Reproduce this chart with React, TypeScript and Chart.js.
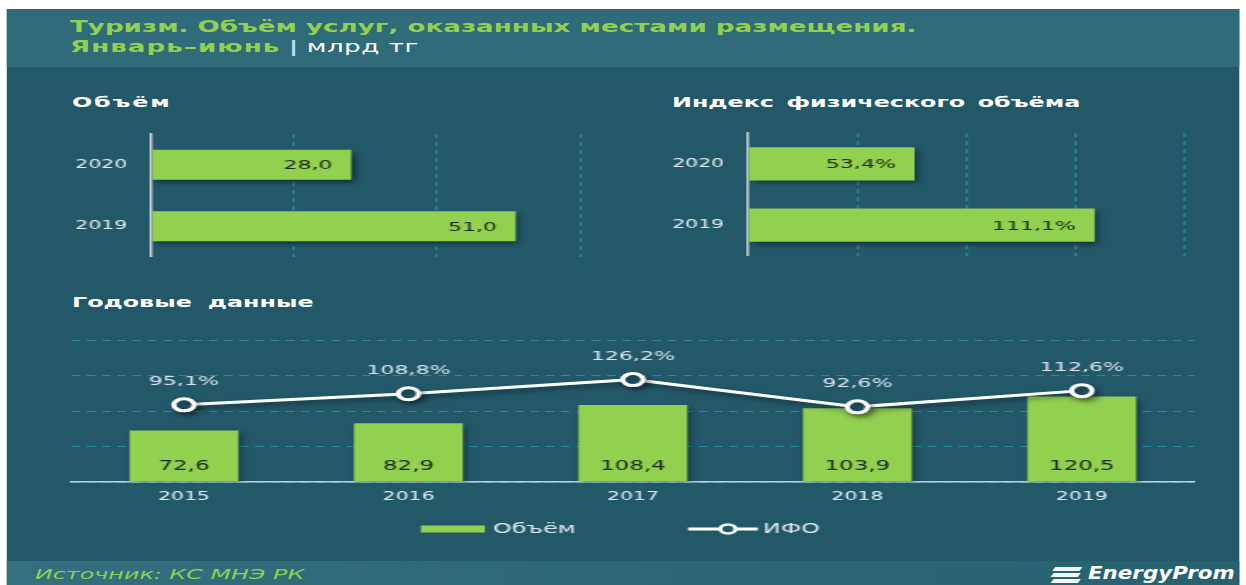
import React, { useEffect, useRef } from 'react';
import { Chart, registerables } from 'chart.js';

Chart.register(...registerables);

// ---------- data ----------
const halfYearCategories = ['2020', '2019'];
const halfYearVolume = [28.0, 51.0];
const halfYearIndex = [53.4, 111.1];

const years = ['2015', '2016', '2017', '2018', '2019'];
const annualVolume = [72.6, 82.9, 108.4, 103.9, 120.5];
const annualIfo = [95.1, 108.8, 126.2, 92.6, 112.6];

const seriesNames = ['Объём', 'ИФО'];

// ---------- style ----------
const K = 1.7; // the infographic is drawn horizontally stretched
const FONT = '"DejaVu Sans", Verdana, sans-serif';
const GREEN = '#92d050';
const BG = '#235869';
const HEADER = '#306b7a';
const GRID = '#2b88a6';
const AXIS = '#c9cfd2';
const TICK = '#e6ecef';

Chart.defaults.font.family = FONT;

const fmt = (v: number, suffix: string) => v.toFixed(1).replace('.', ',') + suffix;

const labelsPlugin = {
  id: 'shadowAndLabels',
  beforeDatasetsDraw(chart: any) {
    const ctx = chart.ctx;
    ctx.save();
    ctx.shadowColor = 'rgba(0,0,0,0.45)';
    ctx.shadowBlur = 5;
    ctx.shadowOffsetX = 2;
    ctx.shadowOffsetY = 3;
  },
  afterDatasetsDraw(chart: any) {
    const ctx = chart.ctx;
    ctx.restore();
    ctx.save();
    chart.data.datasets.forEach((ds: any, di: number) => {
      const meta = chart.getDatasetMeta(di);
      meta.data.forEach((el: any, i: number) => {
        const v = ds.data[i] as number;
        const txt = fmt(v, ds.suffix || '');
        ctx.textBaseline = 'middle';
        if (ds.labelMode === 'hbar') {
          ctx.font = `13px ${FONT}`;
          ctx.fillStyle = '#1c2614';
          ctx.textAlign = 'right';
          ctx.fillText(txt, el.x - 11, el.y + 1);
        } else if (ds.labelMode === 'vbar') {
          ctx.font = `13.5px ${FONT}`;
          ctx.fillStyle = '#1c2614';
          ctx.textAlign = 'center';
          ctx.fillText(txt, el.x, el.base - 15);
        } else if (ds.labelMode === 'point') {
          ctx.font = `13px ${FONT}`;
          ctx.fillStyle = '#dbe6ea';
          ctx.textAlign = 'center';
          ctx.fillText(txt, el.x, el.y - 23);
        }
      });
    });
    ctx.restore();
  },
};

const legendPlugin = {
  id: 'customLegend',
  afterDraw(chart: any) {
    const ctx = chart.ctx;
    const { left, right, bottom } = chart.chartArea;
    const cx = (left + right) / 2;
    const y = bottom + 47;
    ctx.save();
    ctx.font = `14px ${FONT}`;
    ctx.textBaseline = 'middle';
    ctx.textAlign = 'left';
    // bar item
    const x1 = cx - 124.7;
    ctx.fillStyle = GREEN;
    ctx.fillRect(x1, y - 3.5, 37.6, 7);
    ctx.fillStyle = '#dfe8ec';
    ctx.fillText(chart.data.datasets[1].label, x1 + 37.6 + 4.7, y);
    // line item
    const x2 = cx + 32.4;
    ctx.strokeStyle = '#ffffff';
    ctx.lineWidth = 3;
    ctx.beginPath();
    ctx.moveTo(x2, y);
    ctx.lineTo(x2 + 41, y);
    ctx.stroke();
    ctx.beginPath();
    ctx.arc(x2 + 23.5, y, 4.5, 0, Math.PI * 2);
    ctx.fillStyle = BG;
    ctx.fill();
    ctx.lineWidth = 2.5;
    ctx.stroke();
    ctx.fillStyle = '#dfe8ec';
    ctx.fillText(chart.data.datasets[0].label, x2 + 41 + 3, y);
    ctx.restore();
  },
};

function hbarConfig(values: number[], max: number, step: number, suffix: string, barPct: number, axisWidth: number): any {
  return {
    type: 'bar',
    data: {
      labels: halfYearCategories,
      datasets: [
        {
          data: values,
          backgroundColor: GREEN,
          borderWidth: 0,
          barPercentage: barPct,
          categoryPercentage: 1,
          labelMode: 'hbar',
          suffix,
        },
      ],
    },
    options: {
      indexAxis: 'y',
      responsive: true,
      maintainAspectRatio: false,
      animation: false,
      layout: { padding: { left: 0, right: 6, top: 14, bottom: 9 } },
      plugins: { legend: { display: false }, tooltip: { enabled: false } },
      scales: {
        x: {
          min: 0,
          max,
          ticks: { display: false, stepSize: step },
          grid: { color: GRID, lineWidth: 1.3, drawTicks: false },
          border: { display: false, dash: [4, 4] },
        },
        y: {
          ticks: { color: TICK, font: { size: 12, family: FONT }, padding: 14 },
          grid: { display: false, drawTicks: false },
          border: { display: true, color: AXIS, width: 1.5 },
          afterFit: (s: any) => {
            s.width = axisWidth;
          },
        },
      },
    },
    plugins: [labelsPlugin],
  };
}

function annualConfig(): any {
  return {
    type: 'bar',
    data: {
      labels: years,
      datasets: [
        {
          type: 'line',
          label: seriesNames[1],
          data: annualIfo,
          yAxisID: 'y1',
          borderColor: '#ffffff',
          borderWidth: 3,
          pointRadius: 6,
          pointBorderWidth: 3,
          pointBackgroundColor: BG,
          pointBorderColor: '#ffffff',
          tension: 0,
          order: 0,
          labelMode: 'point',
          suffix: '%',
        },
        {
          type: 'bar',
          label: seriesNames[0],
          data: annualVolume,
          yAxisID: 'y',
          backgroundColor: GREEN,
          borderWidth: 0,
          barPercentage: 0.485,
          categoryPercentage: 1,
          order: 1,
          labelMode: 'vbar',
          suffix: '',
        },
      ],
    },
    options: {
      responsive: true,
      maintainAspectRatio: false,
      animation: false,
      layout: { padding: { left: 22.2, right: 17.6, top: 20, bottom: 38 } },
      plugins: { legend: { display: false }, tooltip: { enabled: false } },
      scales: {
        x: {
          ticks: { color: TICK, font: { size: 12, family: FONT }, padding: 8 },
          grid: { display: false, drawTicks: false },
          border: { display: true, color: AXIS, width: 1.5 },
          afterFit: (s: any) => {
            s.height = 30;
          },
        },
        y: {
          min: 0,
          max: 200,
          ticks: { display: false, stepSize: 50 },
          grid: { color: GRID, lineWidth: 1, drawTicks: false },
          border: { display: false, dash: [5, 4] },
          afterFit: (s: any) => {
            s.width = 0;
          },
        },
        y1: { min: 0, max: 175, display: false },
      },
    },
    plugins: [labelsPlugin, legendPlugin],
  };
}

function ChartBox({ make, box }: { make: () => any; box: React.CSSProperties }) {
  const ref = useRef<HTMLCanvasElement>(null);
  useEffect(() => {
    const chart = new Chart(ref.current as HTMLCanvasElement, make());
    return () => chart.destroy();
  }, []);
  return (
    <div style={{ position: 'absolute', ...box }}>
      <canvas ref={ref} />
    </div>
  );
}

const abs = (s: React.CSSProperties): React.CSSProperties => ({ position: 'absolute', ...s });

export default function App() {
  const panelLeft = 6 / K;
  const panelWidth = (1240 - 6) / K;
  const sectionTitle: React.CSSProperties = {
    fontSize: 14,
    lineHeight: '17px',
    fontWeight: 'bold',
    color: '#ffffff',
    whiteSpace: 'nowrap',
  };
  return (
    <div
      style={{
        position: 'absolute',
        left: 0,
        top: 0,
        width: 1246 / K,
        height: 585,
        transform: `scaleX(${K})`,
        transformOrigin: '0 0',
        background: '#ffffff',
        overflow: 'hidden',
        fontFamily: FONT,
      }}
    >
      <div style={abs({ left: panelLeft, top: 9, width: panelWidth, height: 576, background: BG })} />
      <div style={abs({ left: panelLeft, top: 9, width: panelWidth, height: 58, background: HEADER })} />
      <div
        style={abs({
          left: panelLeft,
          top: 561,
          width: panelWidth,
          height: 24,
          background: 'linear-gradient(90deg, #34707f 0%, #2d6777 50%, #28616f 100%)',
        })}
      />

      <div style={abs({ left: 70 / K, top: 18, fontSize: 15.4, lineHeight: '18px', fontWeight: 'bold', color: GREEN, whiteSpace: 'nowrap' })}>
        Туризм. Объём услуг, оказанных местами размещения.
      </div>
      <div style={abs({ left: 70 / K, top: 38, fontSize: 15.4, lineHeight: '18px', color: GREEN, whiteSpace: 'nowrap' })}>
        <span style={{ fontWeight: 'bold', letterSpacing: 0.6 }}>Январь–июнь</span>{' '}
        <span style={{ color: '#bfe0ec', fontWeight: 'bold' }}>|</span>{' '}
        <span style={{ color: '#ffffff', letterSpacing: 0.3 }}>млрд тг</span>
      </div>

      <div style={abs({ left: 72 / K, top: 94, ...sectionTitle, letterSpacing: 1.1 })}>Объём</div>
      <div style={abs({ left: 672 / K, top: 93.5, ...sectionTitle, wordSpacing: 2.5 })}>Индекс физического объёма</div>
      <div style={abs({ left: 72 / K, top: 294, ...sectionTitle, wordSpacing: 4.5 })}>Годовые данные</div>

      <ChartBox
        make={() => hbarConfig(halfYearVolume, 60, 20, '', 0.49, 151 / K - 20)}
        box={{ left: 20, top: 113, width: 580 / K - 20 + 6, height: 165 }}
      />
      <ChartBox
        make={() => hbarConfig(halfYearIndex, 140, 35, '%', 0.54, 748 / K - 375)}
        box={{ left: 375, top: 112, width: 1185 / K - 375 + 6, height: 165 }}
      />
      <ChartBox make={annualConfig} box={{ left: 20, top: 320, width: 700, height: 230 }} />

      <div style={abs({ left: 35 / K, top: 566, fontSize: 14, lineHeight: '17px', fontStyle: 'italic', color: '#8fd04f', whiteSpace: 'nowrap' })}>
        Источник: КС МНЭ РК
      </div>
      {[0, 6, 12].map((dy, i) => (
        <div
          key={i}
          style={abs({
            left: 1052 / K + (2 - i) * 0.6,
            top: 567 + dy,
            width: 16,
            height: 3.5,
            background: '#ffffff',
            transform: 'skewX(-25deg)',
            opacity: 0.95,
          })}
        />
      ))}
      <div
        style={abs({
          left: 1088 / K,
          top: 563,
          fontSize: 17,
          lineHeight: '20px',
          fontStyle: 'italic',
          fontWeight: 'bold',
          color: '#ffffff',
          whiteSpace: 'nowrap',
          transform: 'scaleX(0.74)',
          transformOrigin: '0 0',
        })}
      >
        EnergyProm
      </div>
    </div>
  );
}
